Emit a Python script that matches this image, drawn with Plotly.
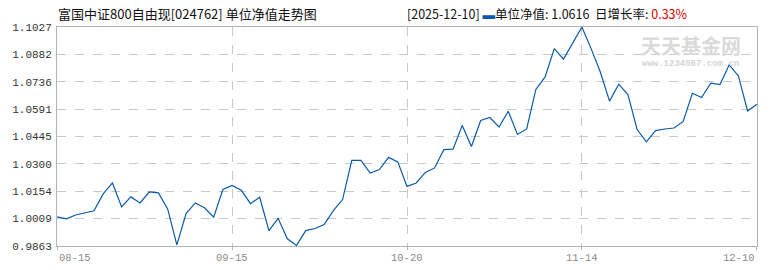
import plotly.graph_objects as go

# ---- data ----
nav = [
    1.0018, 1.0007, 1.0028, 1.0039, 1.0050, 1.0140, 1.0198, 1.0071, 1.0124, 1.0092,
    1.0150, 1.0145, 1.0060, 0.9869, 1.0035, 1.0092, 1.0066, 1.0016, 1.0163, 1.0185,
    1.0159, 1.0088, 1.0122, 0.9945, 1.0010, 0.9901, 0.9866, 0.9945, 0.9956, 0.9977,
    1.0051, 1.0110, 1.0318, 1.0318, 1.0251, 1.0269, 1.0334, 1.0310, 1.0180, 1.0198,
    1.0254, 1.0278, 1.0375, 1.0378, 1.0504, 1.0392, 1.0530, 1.0546, 1.0495, 1.0579,
    1.0456, 1.0485, 1.0695, 1.0762, 1.0912, 1.0856, 1.0938, 1.1027, 1.0912, 1.0788,
    1.0633, 1.0723, 1.0668, 1.0482, 1.0417, 1.0476, 1.0485, 1.0490, 1.0525, 1.0675,
    1.0652, 1.0728, 1.0721, 1.0826, 1.0767, 1.0581, 1.0616,
]
x_tick_labels = ["08-15", "09-15", "10-20", "11-14", "12-10"]
y_tick_labels = ["0.9863", "1.0009", "1.0154", "1.0300", "1.0445",
                 "1.0591", "1.0736", "1.0882", "1.1027"]
y_min, y_max = 0.9863, 1.1027
fund_name = "富国中证800自由现"
fund_code = "024762"
latest_date = "2025-12-10"

# ---- derived ----
n = len(nav)
idx = list(range(n))
tick_idx = [round(k * (n - 1) / 4) for k in range(5)]
y_tick_vals = [y_min + k * (y_max - y_min) / 8 for k in range(9)]
latest = nav[-1]
growth = (nav[-1] / nav[-2] - 1) * 100

LINE = "#0a5aab"
GRID = "#c8c8c8"
BORDER = "#b4b4b4"
CJK = "Noto Sans CJK SC"
MONO = "Liberation Mono"

fig = go.Figure()
fig.add_trace(go.Scatter(
    x=idx, y=nav, mode="lines",
    line=dict(color=LINE, width=1.2),
    hoverinfo="skip", showlegend=False,
))

fig.update_layout(
    width=770, height=270,
    margin=dict(l=54, r=12, t=27, b=24),
    paper_bgcolor="white", plot_bgcolor="white",
    showlegend=False,
    xaxis=dict(
        range=[-0.02, n - 1 + 0.02],
        tickvals=tick_idx, showticklabels=False,
        ticks="outside", ticklen=3, tickcolor=BORDER,
        showgrid=True, gridcolor=GRID, griddash="dash", gridwidth=1,
        showline=True, linecolor=BORDER, linewidth=1, mirror=True,
        zeroline=False, fixedrange=True,
    ),
    yaxis=dict(
        range=[y_min, y_max],
        tickvals=y_tick_vals, ticktext=y_tick_labels,
        tickfont=dict(family=MONO, size=11, color="#333333"),
        ticks="", ticklabelstandoff=2,
        showgrid=True, gridcolor=GRID, griddash="dash", gridwidth=1,
        showline=True, linecolor=BORDER, linewidth=1, mirror=True,
        zeroline=False, fixedrange=True,
    ),
)

annotations = []
# watermark (drawn first, beneath other text)
annotations.append(dict(
    x=0.905, xref="paper", y=0.915, yref="paper", xanchor="center", yanchor="middle",
    text="<b>天天基金网</b>", showarrow=False,
    font=dict(family=CJK, size=20, color="#dadada"),
))
annotations.append(dict(
    x=0.905, xref="paper", y=0.83, yref="paper", xanchor="center", yanchor="middle",
    text="<b>www.1234567.com.cn</b>", showarrow=False,
    font=dict(family=MONO, size=9, color="#d4d4d4"),
))
# x-axis labels
for k, (ti, lab) in enumerate(zip(tick_idx, x_tick_labels)):
    anchor = "left" if k == 0 else ("right" if k == len(tick_idx) - 1 else "center")
    annotations.append(dict(
        x=ti, xref="x", y=-0.02, yref="paper", yanchor="top",
        xanchor=anchor, text=lab, showarrow=False,
        font=dict(family=MONO, size=10.5, color="#8a8a8a"),
    ))

# title
annotations.append(dict(
    x=0, xref="paper", y=1.06, yref="paper", xanchor="left", yanchor="middle",
    xshift=-1, text=f"{fund_name}[{fund_code}] 单位净值走势图", showarrow=False,
    font=dict(family=CJK, size=13, color="#111111"),
))
# info text
annotations.append(dict(
    x=0.497, xref="paper", y=1.06, yref="paper", xanchor="left", yanchor="middle",
    text=(f"[{latest_date}] <span style='color:{LINE}'>▬</span>单位净值: {latest:.4f}  "
          f"日增长率: <span style='color:#e00000'>{growth:.2f}%</span>"),
    showarrow=False,
    font=dict(family=CJK, size=12.5, color="#111111"),
))

fig.update_layout(annotations=annotations)
fig.write_html("out.html")
